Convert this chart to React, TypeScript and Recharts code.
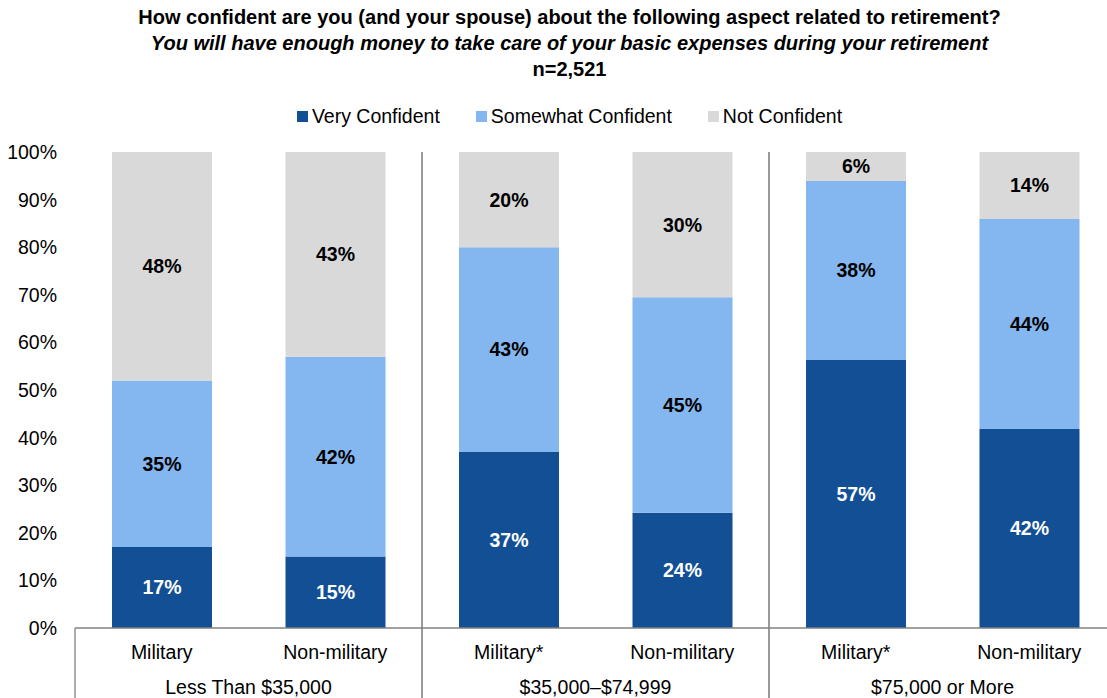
import React from "react";
import { BarChart, Bar, XAxis, YAxis, LabelList } from "recharts";

const categories = ["Military", "Non-military", "Military*", "Non-military", "Military*", "Non-military"];
const groups = ["Less Than $35,000", "Less Than $35,000", "$35,000–$74,999", "$35,000–$74,999", "$75,000 or More", "$75,000 or More"];
const veryConfident = [17, 15, 37, 24.2, 56.3, 41.8];
const somewhatConfident = [35, 42, 43, 45.3, 37.6, 44.1];
const notConfident = [48, 43, 20, 30.5, 6.1, 14.1];
const veryLabels = ["17%", "15%", "37%", "24%", "57%", "42%"];
const somewhatLabels = ["35%", "42%", "43%", "45%", "38%", "44%"];
const notLabels = ["48%", "43%", "20%", "30%", "6%", "14%"];
const yTicks = [0, 10, 20, 30, 40, 50, 60, 70, 80, 90, 100];

const COLORS = { very: "#124F94", some: "#84B6EF", not: "#D9D9D9" };
const FONT = "Arial, 'Liberation Sans', sans-serif";
const FS = 19.5;
const CHART_W = 1116;
const CHART_H = 698;
const PLOT_TOP = 152;
const AXIS_H = 70;
const LINE = "#808080";

const data = categories.map((c, i) => ({
  id: `c${i}`,
  name: c,
  group: groups[i],
  very: veryConfident[i],
  some: somewhatConfident[i],
  not: notConfident[i],
  veryLabel: veryLabels[i],
  someLabel: somewhatLabels[i],
  notLabel: notLabels[i],
}));

const XTick = (props: any) => {
  const { x, y, payload, index } = props;
  const off = payload.offset || 0;
  const d = data[index];
  return (
    <g>
      <text x={x} y={y + 24} textAnchor="middle" dominantBaseline="central" fontSize={FS} fontFamily={FONT} fill="#000">
        {d.name}
      </text>
      {index % 2 === 0 && (
        <text x={x + off} y={y + 59} textAnchor="middle" dominantBaseline="central" fontSize={FS} fontFamily={FONT} fill="#000">
          {d.group}
        </text>
      )}
      {index === 0 && <line x1={x - off} x2={x - off} y1={y} y2={y + AXIS_H} stroke={LINE} strokeWidth={1.3} />}
      {(index === 1 || index === 3) && (
        <line x1={x + off} x2={x + off} y1={PLOT_TOP} y2={CHART_H} stroke={LINE} strokeWidth={1.6} />
      )}
    </g>
  );
};

const legendItems = [
  { label: "Very Confident", color: COLORS.very },
  { label: "Somewhat Confident", color: COLORS.some },
  { label: "Not Confident", color: COLORS.not },
];

export default function App() {
  return (
    <div style={{ position: "absolute", left: 0, top: 0, width: 1107, height: 698, overflow: "hidden", background: "#fff", fontFamily: FONT }}>
      <div style={{ position: "absolute", left: 16, top: 0, width: 1107, textAlign: "center", fontWeight: "bold", fontSize: 20, lineHeight: "26px", paddingTop: 4, color: "#000" }}>
        <div>How confident are you (and your spouse) about the following aspect related to retirement?</div>
        <div style={{ fontStyle: "italic" }}>You will have enough money to take care of your basic expenses during your retirement</div>
        <div>n=2,521</div>
      </div>
      <div style={{ position: "absolute", left: 16, top: 104, width: 1107, display: "flex", justifyContent: "center", alignItems: "center", fontSize: FS, lineHeight: "24px", color: "#000" }}>
        {legendItems.map((it, i) => (
          <div key={i} style={{ display: "flex", alignItems: "center", marginRight: i < 2 ? 36 : 0 }}>
            <span style={{ display: "inline-block", width: 11, height: 11, background: it.color, marginRight: 4 }} />
            <span>{it.label}</span>
          </div>
        ))}
      </div>
      <div style={{ position: "absolute", left: 0, top: 0 }}>
        <BarChart width={CHART_W} height={CHART_H} data={data} margin={{ top: PLOT_TOP, right: 0, left: 0, bottom: 0 }} barSize={100}>
          <YAxis
            type="number"
            domain={[0, 100]}
            ticks={yTicks}
            width={75}
            axisLine={false}
            tickLine={false}
            tickSize={6}
            tickMargin={12}
            tickFormatter={(v: number) => `${v}%`}
            tick={{ fontSize: FS, fontFamily: FONT, fill: "#000" }}
            interval={0}
          />
          <XAxis
            dataKey="id"
            height={AXIS_H}
            interval={0}
            tickLine={false}
            tickSize={0}
            tickMargin={0}
            axisLine={{ stroke: LINE, strokeWidth: 1.3 }}
            tick={<XTick />}
          />
          <Bar dataKey="very" stackId="a" fill={COLORS.very} isAnimationActive={false}>
            <LabelList dataKey="veryLabel" position="center" fill="#fff" fontSize={FS} fontWeight="bold" fontFamily={FONT} />
          </Bar>
          <Bar dataKey="some" stackId="a" fill={COLORS.some} isAnimationActive={false}>
            <LabelList dataKey="someLabel" position="center" fill="#000" fontSize={FS} fontWeight="bold" fontFamily={FONT} />
          </Bar>
          <Bar dataKey="not" stackId="a" fill={COLORS.not} isAnimationActive={false}>
            <LabelList dataKey="notLabel" position="center" fill="#000" fontSize={FS} fontWeight="bold" fontFamily={FONT} />
          </Bar>
        </BarChart>
      </div>
    </div>
  );
}
